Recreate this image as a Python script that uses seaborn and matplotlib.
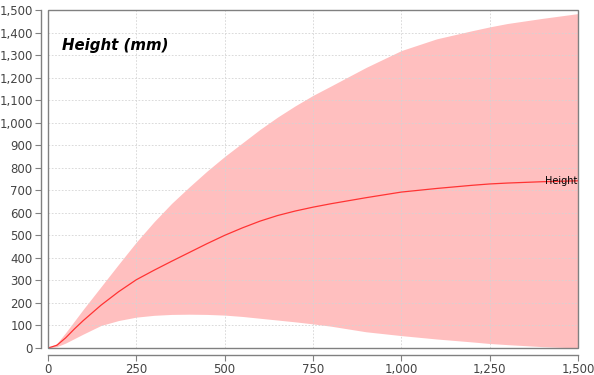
import matplotlib
matplotlib.use("Agg")
import matplotlib.pyplot as plt
import matplotlib.patches as mpatches
from matplotlib.ticker import FuncFormatter
import seaborn as sns
import pandas as pd

# ---- data ----
days = [0, 25, 50, 75, 100, 150, 200, 250, 300, 350, 400, 450, 500, 550, 600,
        650, 700, 750, 800, 900, 1000, 1100, 1200, 1250, 1300, 1400, 1500]
height_mid = [0, 12, 45, 85, 122, 190, 250, 303, 345, 385, 424, 463, 500, 533, 563,
              588, 608, 625, 640, 667, 692, 708, 722, 728, 732, 738, 742]
height_low = [0, 6, 22, 42, 62, 100, 122, 137, 145, 149, 150, 149, 146, 140, 132,
              124, 116, 107, 97, 72, 55, 40, 27, 20, 15, 6, 0]
height_high = [0, 20, 68, 120, 172, 272, 372, 470, 560, 642, 715, 785, 850, 910, 970,
               1025, 1075, 1121, 1162, 1245, 1320, 1372, 1408, 1425, 1440, 1463, 1484]
x_ticks = [0, 250, 500, 750, 1000, 1250, 1500]
y_ticks = list(range(0, 1501, 100))
series_name = "Height"
chart_title = "Height (mm)"

df = pd.DataFrame({"x": days, "mid": height_mid, "low": height_low, "high": height_high})

sns.set_theme(style="white")
plt.rcParams["font.family"] = ["DejaVu Sans"]

fig = plt.figure(figsize=(5.94, 3.75), dpi=100)
ax = fig.add_axes([48 / 594, 27 / 375, 530 / 594, 338 / 375])

ax.fill_between(df["x"], df["low"], df["high"], color="#ffbfbf", linewidth=0, zorder=1)
sns.lineplot(data=df, x="x", y="mid", ax=ax, color="#ff3333", linewidth=0.9, zorder=3)

ax.set_xlim(0, 1500)
ax.set_ylim(0, 1500)
ax.set_xticks(x_ticks)
ax.set_yticks(y_ticks)
fmt = FuncFormatter(lambda v, p: f"{int(v):,}")
ax.xaxis.set_major_formatter(fmt)
ax.yaxis.set_major_formatter(fmt)
ax.set_xlabel("")
ax.set_ylabel("")

ax.grid(True, color="#d4d4d4", linewidth=0.6, linestyle=(0, (2, 2)), zorder=2)
ax.set_axisbelow(False)
for gl in ax.get_xgridlines() + ax.get_ygridlines():
    gl.set_zorder(2)

for s in ["top", "right"]:
    ax.spines[s].set_visible(False)
for s in ["left", "bottom"]:
    ax.spines[s].set_position(("outward", 5))
    ax.spines[s].set_color("#808080")
    ax.spines[s].set_linewidth(1.0)

ax.add_patch(mpatches.Rectangle((0, 0), 1, 1, transform=ax.transAxes, fill=False,
                                edgecolor="#808080", linewidth=1.0, clip_on=False, zorder=5))

ax.tick_params(axis="both", which="major", length=4, width=0.8, color="#808080",
               labelsize=8.5, labelcolor="#444444", direction="out", pad=2,
               bottom=True, left=True)

ax.text(0.026, 0.895, chart_title, transform=ax.transAxes, fontsize=10.8,
        fontweight="bold", fontstyle="italic", color="black", ha="left", va="center")

ax.text(1408, height_mid[-1], series_name, fontsize=7, color="black",
        ha="left", va="center", clip_on=True, zorder=4)

fig.savefig("out.png", dpi=100)
